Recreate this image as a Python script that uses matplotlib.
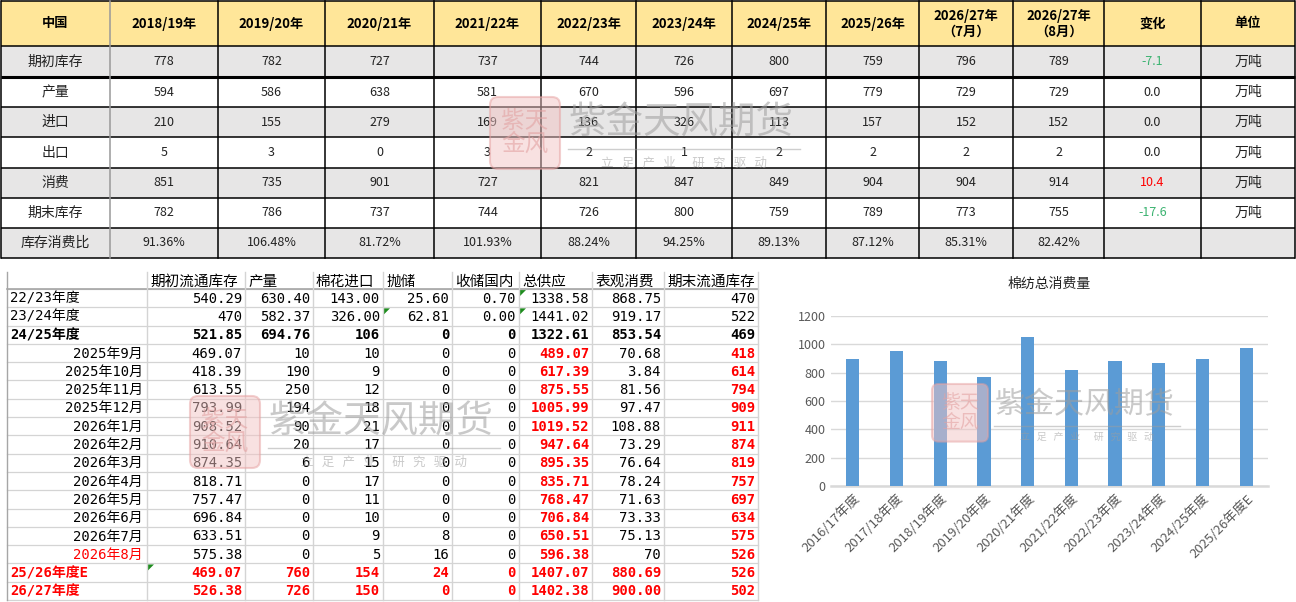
import numpy as np
import matplotlib.pyplot as plt
from matplotlib.patches import Rectangle, FancyBboxPatch, Polygon

plt.rcParams['font.family'] = ['Noto Sans CJK SC', 'DejaVu Sans']
MONO = ['DejaVu Sans Mono', 'Noto Sans CJK SC']

# ---------- 上表：中国棉花供需平衡 ----------
top_header = ['中国', '2018/19年', '2019/20年', '2020/21年', '2021/22年', '2022/23年',
              '2023/24年', '2024/25年', '2025/26年', '2026/27年\n（7月）',
              '2026/27年\n（8月）', '变化', '单位']
top_items = ['期初库存', '产量', '进口', '出口', '消费', '期末库存', '库存消费比']
beg_stock = [778, 782, 727, 737, 744, 726, 800, 759, 796, 789]
production = [594, 586, 638, 581, 670, 596, 697, 779, 729, 729]
imports = [210, 155, 279, 169, 136, 326, 113, 157, 152, 152]
exports = [5, 3, 0, 3, 2, 1, 2, 2, 2, 2]
consumption = [851, 735, 901, 727, 821, 847, 849, 904, 904, 914]
end_stock = [782, 786, 737, 744, 726, 800, 759, 789, 773, 755]
stock_use = [91.36, 106.48, 81.72, 101.93, 88.24, 94.25, 89.13, 87.12, 85.31, 82.42]
change = [-7.1, 0.0, 0.0, 0.0, 10.4, -17.6, None]
unit = ['万吨', '万吨', '万吨', '万吨', '万吨', '万吨', '']

# ---------- 下表：流通库存月度平衡 ----------
b_header = ['', '期初流通库存', '产量', '棉花进口', '抛储', '收储国内', '总供应', '表观消费', '期末流通库存']
b_labels = ['22/23年度', '23/24年度', '24/25年度', '2025年9月', '2025年10月', '2025年11月',
            '2025年12月', '2026年1月', '2026年2月', '2026年3月', '2026年4月', '2026年5月',
            '2026年6月', '2026年7月', '2026年8月', '25/26年度E', '26/27年度']
b_open = ['540.29', '470', '521.85', '469.07', '418.39', '613.55', '793.99', '908.52', '910.64',
          '874.35', '818.71', '757.47', '696.84', '633.51', '575.38', '469.07', '526.38']
b_prod = ['630.40', '582.37', '694.76', '10', '190', '250', '194', '90', '20', '6', '0', '0',
          '0', '0', '0', '760', '726']
b_import = ['143.00', '326.00', '106', '10', '9', '12', '18', '21', '17', '15', '17', '11',
            '10', '9', '5', '154', '150']
b_release = ['25.60', '62.81', '0', '0', '0', '0', '0', '0', '0', '0', '0', '0', '0', '8',
             '16', '24', '0']
b_reserve = ['0.70', '0.00', '0', '0', '0', '0', '0', '0', '0', '0', '0', '0', '0', '0',
             '0', '0', '0']
b_supply = ['1338.58', '1441.02', '1322.61', '489.07', '617.39', '875.55', '1005.99', '1019.52',
            '947.64', '895.35', '835.71', '768.47', '706.84', '650.51', '596.38', '1407.07',
            '1402.38']
b_consume = ['868.75', '919.17', '853.54', '70.68', '3.84', '81.56', '97.47', '108.88', '73.29',
             '76.64', '78.24', '71.63', '73.33', '75.13', '70', '880.69', '900.00']
b_close = ['470', '522', '469', '418', '614', '794', '909', '911', '874', '819', '757', '697',
           '634', '575', '526', '526', '502']
b_kind = ['year', 'year', 'bold'] + ['month'] * 12 + ['est', 'est']

# ---------- 柱状图：棉纺总消费量 ----------
seasons = ['2016/17年度', '2017/18年度', '2018/19年度', '2019/20年度', '2020/21年度',
           '2021/22年度', '2022/23年度', '2023/24年度', '2024/25年度', '2025/26年度E']
total_use = [900, 950, 880, 770, 1055, 820, 880, 865, 900, 975]

RED = '#FF0000'
fig = plt.figure(figsize=(12.96, 6.02), dpi=100)
ax = fig.add_axes([0, 0, 1, 1])
ax.set_xlim(0, 1296)
ax.set_ylim(602, 0)
ax.axis('off')

# ---- top table ----
tx = [1, 110, 218, 325, 434, 541, 636, 732, 826, 919, 1013, 1104, 1201, 1295]
ty = [1, 46, 77, 107, 137, 168, 198, 228, 258]
ax.add_patch(Rectangle((tx[0], ty[0]), tx[-1] - tx[0], ty[1] - ty[0], fc='#FFE699', ec='none'))
for i in range(len(top_items)):
    fc = '#E7E6E6' if i % 2 == 0 else 'white'
    ax.add_patch(Rectangle((tx[0], ty[i + 1]), tx[-1] - tx[0], ty[i + 2] - ty[i + 1], fc=fc, ec='none'))
for j, h in enumerate(top_header):
    ax.text((tx[j] + tx[j + 1]) / 2, (ty[0] + ty[1]) / 2, h, ha='center', va='center',
            fontsize=9.5, fontweight='bold', color='black', linespacing=1.15)
series = [beg_stock, production, imports, exports, consumption, end_stock]
for i, name in enumerate(top_items):
    yc = (ty[i + 1] + ty[i + 2]) / 2
    ax.text((tx[0] + tx[1]) / 2, yc, name, ha='center', va='center', fontsize=10, color='#222222')
    for j in range(10):
        if i < 6:
            s = str(series[i][j])
        else:
            s = '%.2f%%' % stock_use[j]
        ax.text((tx[j + 1] + tx[j + 2]) / 2, yc, s, ha='center', va='center', fontsize=9,
                color='#222222')
    c = change[i]
    if c is not None:
        col = '#3CB371' if c < 0 else (RED if c > 0 else '#222222')
        ax.text((tx[11] + tx[12]) / 2, yc, '%.1f' % c, ha='center', va='center', fontsize=9, color=col)
    ax.text((tx[12] + tx[13]) / 2, yc, unit[i], ha='center', va='center', fontsize=10, color='#222222')
for k, y in enumerate(ty):
    ax.plot([tx[0], tx[-1]], [y, y], color='black', lw=2.2 if k == 2 else 1.1, solid_capstyle='butt')
for k, x in enumerate(tx):
    ax.plot([x, x], [ty[0], ty[-1]], color='#999999' if k == 1 else 'black', lw=1.1)

# ---- bottom-left table ----
bx = [7, 147, 245, 313, 383, 452, 519, 592, 664, 758]
by = [272] + list(np.linspace(289, 600, 18))
for y in by[1:]:
    ax.plot([bx[0], bx[-1]], [y, y], color='#D4D4D4', lw=0.9)
ax.plot([bx[0], bx[-1]], [by[1], by[1]], color='#A6A6A6', lw=1.2)
for k, x in enumerate(bx):
    ax.plot([x, x], [by[0], by[-1]], color='#A6A6A6' if k == 0 else '#D4D4D4', lw=1.0)
for j, h in enumerate(b_header):
    ax.text(bx[j] + 3, (by[0] + by[1]) / 2 + 1, h, ha='left', va='center', fontsize=10.5, color='black')
cols = [b_open, b_prod, b_import, b_release, b_reserve, b_supply, b_consume, b_close]
for i, lab in enumerate(b_labels):
    yc = (by[i + 1] + by[i + 2]) / 2 + 0.5
    kind = b_kind[i]
    bold = kind in ('bold', 'est')
    lab_col = RED if (kind == 'est' or lab == '2026年8月') else 'black'
    if kind == 'month':
        ax.text(bx[1] - 4, yc, lab, ha='right', va='center', fontsize=10, family=MONO, color=lab_col)
    else:
        ax.text(bx[0] + 3, yc, lab, ha='left', va='center', fontsize=10, family=MONO,
                color=lab_col, fontweight='bold' if bold else 'normal')
    for j, colv in enumerate(cols):
        if kind == 'est':
            c, w = RED, 'bold'
        elif kind == 'month' and j in (5, 7):
            c, w = RED, 'bold'
        elif kind == 'bold':
            c, w = 'black', 'bold'
        else:
            c, w = 'black', 'normal'
        ax.text(bx[j + 2] - 3, yc, colv[i], ha='right', va='center', fontsize=10, family=MONO,
                color=c, fontweight=w)
# comment indicators
for (r, cidx) in [(0, 6), (1, 4), (1, 6), (15, 1)]:
    x0, y0 = bx[cidx] + 1, by[r + 1] + 1
    ax.add_patch(Polygon([[x0, y0], [x0 + 6, y0], [x0, y0 + 6]], closed=True, fc='#1E8C1E', ec='none'))

# ---- bar chart ----
bax = fig.add_axes([831 / 1296, 1 - 486 / 602, 437 / 1296, 170 / 602])
xpos = np.arange(len(seasons))
bax.bar(xpos, total_use, width=0.3, color='#5B9BD5', zorder=3)
bax.set_xlim(-0.5, len(seasons) - 0.5)
bax.set_ylim(0, 1200)
bax.set_yticks(np.arange(0, 1201, 200))
bax.yaxis.grid(True, color='#D9D9D9', lw=1.0, zorder=0)
bax.set_axisbelow(True)
for s in ['top', 'right', 'left']:
    bax.spines[s].set_visible(False)
bax.spines['bottom'].set_color('#D9D9D9')
bax.spines['bottom'].set_linewidth(1.8)
bax.tick_params(length=0, labelsize=9, colors='#595959', pad=4)
bax.tick_params(axis='x', labelsize=9.5)
bax.set_xticks(xpos)
bax.set_xticklabels(seasons, rotation=45, ha='right', rotation_mode='anchor')
bax.set_title('棉纺总消费量', fontsize=10, color='#222222', pad=20)

# ---- watermarks ----
wax = fig.add_axes([0, 0, 1, 1])
wax.set_xlim(0, 1296)
wax.set_ylim(602, 0)
wax.axis('off')
wax.patch.set_alpha(0)


def watermark(x, y, size):
    s = size / 75.0
    wax.add_patch(FancyBboxPatch((x, y), 70 * s, 72 * s, boxstyle='round,pad=0,rounding_size=%f' % (8 * s),
                                 fc='#F2C4C4', ec='#E6A0A0', lw=1.5, alpha=0.5))
    wax.text(x + 35 * s, y + 36 * s, '紫天\n金风', ha='center', va='center', fontsize=17 * s,
             color='#E3A3A3', alpha=0.6, linespacing=1.0)
    tx0 = x + 78 * s
    wax.text(tx0, y + 26 * s, '紫金天风期货', ha='left', va='center', fontsize=27 * s,
             color='#9E9E9E', alpha=0.55)
    wax.plot([tx0, tx0 + 232 * s], [y + 52 * s, y + 52 * s], color='#9E9E9E', lw=1, alpha=0.5)
    wax.text(tx0 + 116 * s, y + 66 * s, '立   足   产   业      研   究   驱   动', ha='center',
             va='center', fontsize=9 * s, color='#9E9E9E', alpha=0.55)


watermark(490, 97, 75)
watermark(190, 396, 75)
watermark(932, 384, 60)

fig.savefig('out.png', dpi=100)
